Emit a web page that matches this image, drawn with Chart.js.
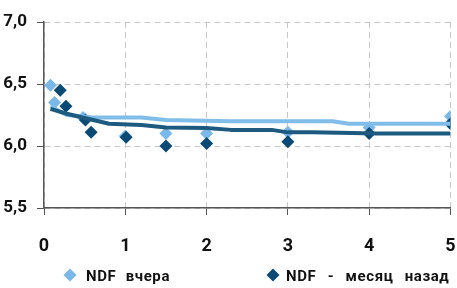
<!DOCTYPE html>
<html><head><meta charset="utf-8">
<script src="https://cdn.jsdelivr.net/npm/chart.js@4/dist/chart.umd.min.js"></script>
<style>html,body{margin:0;padding:0;background:#fff}#wrap{width:457px;height:288px}</style>
</head><body><div id="wrap"><canvas id="c" width="457" height="288"></canvas></div>
<script>
const seriesNames = ["NDF вчера", "NDF - месяц назад"];
const lightX = [0.08, 0.13, 0.48, 1.0, 1.5, 2.0, 3.0, 4.0, 5.0];
const lightY = [6.49, 6.35, 6.23, 6.08, 6.10, 6.10, 6.11, 6.15, 6.24];
const darkX = [0.2, 0.27, 0.51, 0.58, 1.01, 1.5, 2.0, 3.0, 4.0, 5.0];
const darkY = [6.45, 6.32, 6.21, 6.11, 6.07, 6.00, 6.02, 6.035, 6.10, 6.18];
const lightLineX = [0.08, 0.28, 0.6, 1.2, 1.5, 2.3, 3.55, 3.75, 5.0];
const lightLineY = [6.32, 6.25, 6.23, 6.23, 6.21, 6.20, 6.20, 6.18, 6.18];
const darkLineX = [0.08, 0.28, 0.8, 1.2, 1.5, 2.0, 2.3, 2.8, 3.0, 3.3, 4.1, 5.0];
const darkLineY = [6.30, 6.26, 6.18, 6.17, 6.15, 6.145, 6.13, 6.13, 6.11, 6.11, 6.10, 6.10];
const xTicks = [0, 1, 2, 3, 4, 5];
const yTicks = [5.5, 6.0, 6.5, 7.0];

const zip = (xs, ys) => xs.map((x, i) => ({x, y: ys[i]}));
const LIGHT = '#79b8e8', DARK = '#0a4a74', LIGHTLINE = '#80bde9', DARKLINE = '#1d5a80';
const FONT = 'Roboto, "Liberation Sans", sans-serif';

const legendPlugin = {
  id: 'customLegend',
  afterDraw(chart) {
    const ctx = chart.ctx;
    const items = [
      { ds: chart.data.datasets[0], cx: 70, tx: 86, ws: '5px' },
      { ds: chart.data.datasets[1], cx: 273, tx: 286, ws: '7px' }
    ];
    const cy = 275;
    ctx.save();
    items.forEach(it => {
      const r = 6.5;
      ctx.fillStyle = it.ds.backgroundColor;
      ctx.beginPath();
      ctx.moveTo(it.cx, cy - r); ctx.lineTo(it.cx + r, cy); ctx.lineTo(it.cx, cy + r); ctx.lineTo(it.cx - r, cy);
      ctx.closePath(); ctx.fill();
      ctx.fillStyle = '#111';
      ctx.font = 'bold 15px ' + FONT;
      ctx.textBaseline = 'middle';
      ctx.textAlign = 'left';
      try { ctx.letterSpacing = '0.6px'; ctx.wordSpacing = it.ws; } catch (e) {}
      ctx.fillText(it.ds.label, it.tx, cy + 2);
    });
    ctx.restore();
  }
};

new Chart(document.getElementById('c'), {
  type: 'scatter',
  data: { datasets: [
    { label: seriesNames[0], data: zip(lightX, lightY), backgroundColor: LIGHT, borderColor: LIGHT,
      pointStyle: 'rectRot', pointRadius: 6.5, borderWidth: 0, order: 3 },
    { label: seriesNames[1], data: zip(darkX, darkY), backgroundColor: DARK, borderColor: DARK,
      pointStyle: 'rectRot', pointRadius: 6.5, borderWidth: 0, order: 2 },
    { label: 'l1', data: zip(lightLineX, lightLineY), showLine: true, borderColor: LIGHTLINE, borderWidth: 4,
      pointRadius: 0, order: 1, borderJoinStyle: 'round' },
    { label: 'l2', data: zip(darkLineX, darkLineY), showLine: true, borderColor: DARKLINE, borderWidth: 4,
      pointRadius: 0, order: 0, borderJoinStyle: 'round' }
  ]},
  plugins: [legendPlugin],
  options: {
    responsive: false, animation: false,
    layout: { padding: { top: 22, right: 5, left: 0, bottom: 34 } },
    plugins: { tooltip: { enabled: false }, legend: { display: false } },
    scales: {
      x: { type: 'linear', min: 0, max: 5,
        afterBuildTicks: (s) => { s.ticks = xTicks.map(v => ({value: v})); },
        afterFit: (s) => { s.height = 46; },
        ticks: { padding: 0, color: '#111', font: { family: FONT, size: 18, weight: 'bold', lineHeight: 3.5 } },
        grid: { color: '#c8c8c8', lineWidth: 1, tickLength: 7, tickColor: '#555', drawTicks: true },
        border: { color: '#555', width: 1.5, dash: [6, 4] } },
      y: { type: 'linear', min: 5.5, max: 7.0,
        afterBuildTicks: (s) => { s.ticks = yTicks.map(v => ({value: v})); },
        afterFit: (s) => { s.width = 44; },
        ticks: { padding: 10, color: '#111', font: { family: FONT, size: 17, weight: 'bold' },
          callback: (v) => v.toFixed(1).replace('.', ',') },
        grid: { color: '#c8c8c8', lineWidth: 1, tickLength: 7, tickColor: '#555' },
        border: { color: '#555', width: 1.5, dash: [6, 4] } }
    }
  }
});
</script></body></html>
